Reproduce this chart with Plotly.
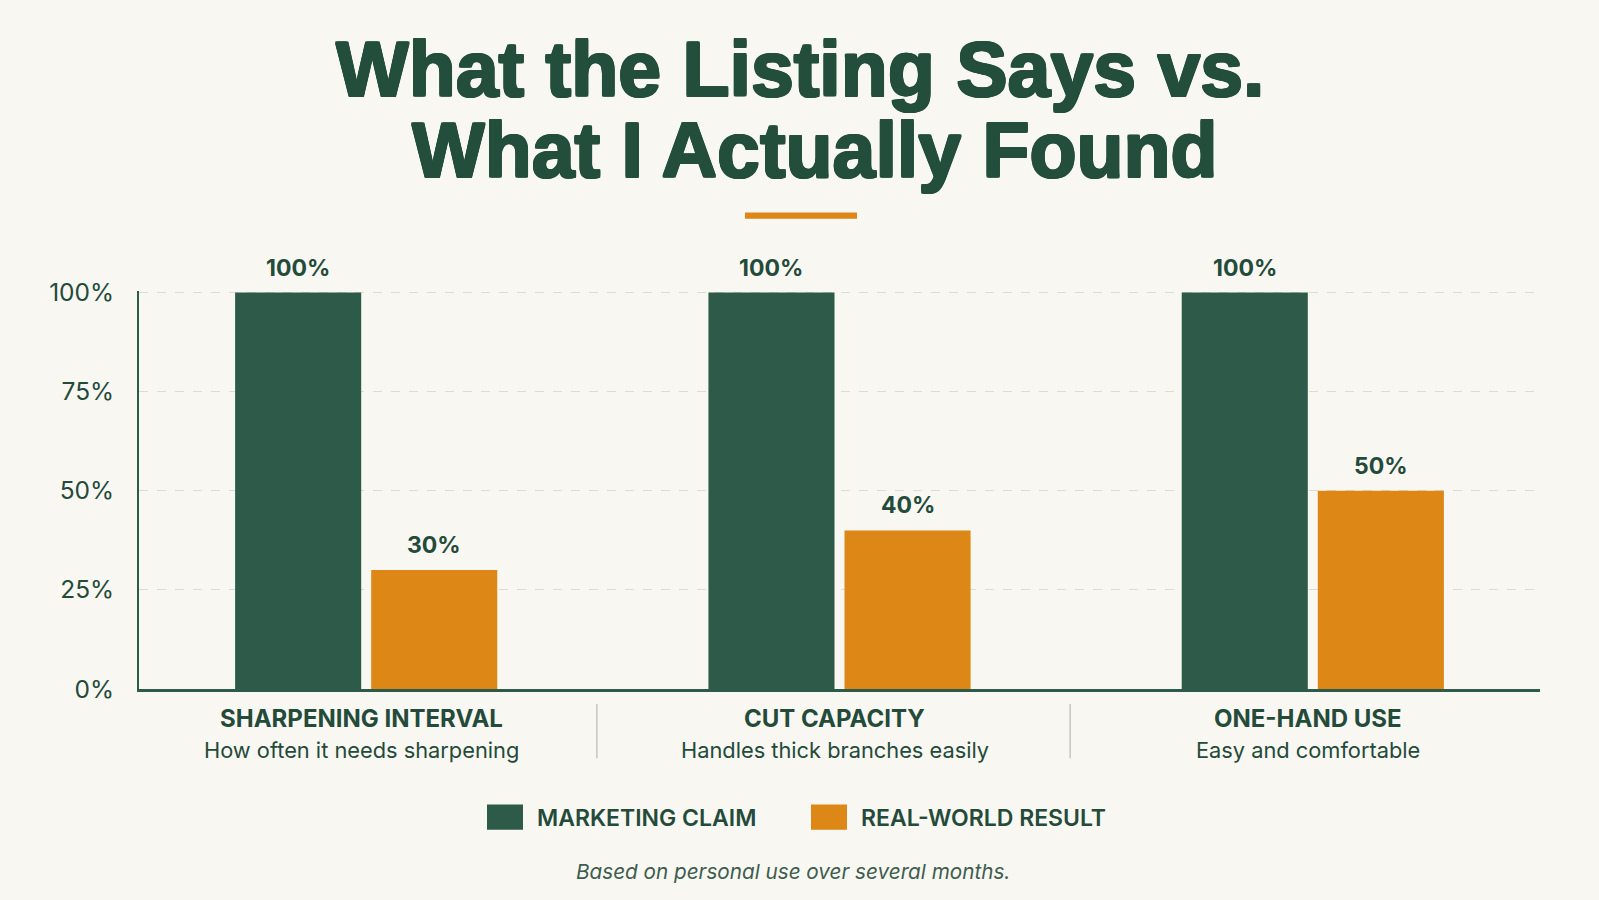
import plotly.graph_objects as go

# ---- data ----
categories = ["SHARPENING INTERVAL", "CUT CAPACITY", "ONE-HAND USE"]
subtitles = ["How often it needs sharpening", "Handles thick branches easily", "Easy and comfortable"]
series_names = ["MARKETING CLAIM", "REAL-WORLD RESULT"]
marketing_claim = [100, 100, 100]
real_world_result = [30, 40, 50]
y_tick_vals = [0, 25, 50, 75, 100]
y_tick_labels = ["0%", "25%", "50%", "75%", "100%"]
title_lines = ["What the Listing Says vs.", "What I Actually Found"]
footnote = "Based on personal use over several months."

# ---- style ----
BG = "#F8F7F2"
GREEN = "#2E5B49"
ORANGE = "#DC8716"
TEXT = "#244A3A"
TITLE = "#234E3C"
GRID = "#DCDCD5"
SEP = "#C6C6C0"
FONT = "Inter"

W, H = 1599, 900
L, R, T, B = 139, 59, 293, 211
PW, PH = W - L - R, H - T - B
XR = [-0.48, 2.48]
YR = [0, 100.4]
BARGAP, GROUPGAP = 0.425, 0.0735


def px(x):
    return (x - L) / PW


def py(y):
    return (H - B - y) / PH


series = [marketing_claim, real_world_result]
colors = [GREEN, ORANGE]

fig = go.Figure()
for name, vals, col in zip(series_names, series, colors):
    fig.add_trace(go.Bar(x=categories, y=vals, name=name, marker_color=col,
                         marker_line_width=0, showlegend=False, hoverinfo="skip"))

unit = PW / (XR[1] - XR[0])
slot = (1 - BARGAP) * unit / len(series)

annotations = []
# value labels
for i, vals in enumerate(series):
    off = (i - (len(series) - 1) / 2) * slot
    for c, v in zip(categories, vals):
        annotations.append(dict(x=c, y=v, xref="x", yref="y", text=f"<b>{v}%</b>",
                                showarrow=False, xanchor="center", yanchor="bottom",
                                xshift=off, yshift=9,
                                font=dict(family=FONT, size=23, color=TEXT)))
# category labels
for c, s in zip(categories, subtitles):
    annotations.append(dict(x=c, y=py(718), xref="x", yref="paper", text=c,
                            showarrow=False, xanchor="center", yanchor="middle", xshift=-5,
                            font=dict(family=FONT, size=24, color=TEXT, weight=700)))
    annotations.append(dict(x=c, y=py(750), xref="x", yref="paper", text=s,
                            showarrow=False, xanchor="center", yanchor="middle", xshift=-5,
                            font=dict(family=FONT, size=21.8, color=TEXT)))
# title
sh = ", ".join(f"{dx}px {dy}px 0 {TITLE}" for dx, dy in
               [(1, 0), (-1, 0), (0, 1), (0, -1), (1, 1), (-1, -1), (1, -1), (-1, 1)])
for line, cx, cy in zip(title_lines, [800, 815], [72.5, 153]):
    annotations.append(dict(x=px(cx), y=py(cy), xref="paper", yref="paper", text=line,
                            showarrow=False, xanchor="center", yanchor="middle",
                            font=dict(family="Liberation Sans", size=77, color=TITLE,
                                      weight=700, shadow=sh)))
# legend (custom)
legend_x = [487, 811]
shapes = []
for name, col, lx in zip(series_names, colors, legend_x):
    shapes.append(dict(type="rect", xref="paper", yref="paper", x0=px(lx), x1=px(lx + 36),
                       y0=py(829), y1=py(804), fillcolor=col, line_width=0, layer="above"))
    annotations.append(dict(x=px(lx + 48), y=py(817), xref="paper", yref="paper", text=name,
                            showarrow=False, xanchor="left", yanchor="middle",
                            font=dict(family=FONT, size=23, color=TEXT, weight=600)))
# footnote
annotations.append(dict(x=px(793), y=py(871), xref="paper", yref="paper", text=footnote,
                        showarrow=False, xanchor="center", yanchor="middle",
                        font=dict(family=FONT, size=20.7, color="#3E5D4F", style="italic")))

# underline accent
shapes.append(dict(type="rect", xref="paper", yref="paper", x0=px(745), x1=px(857),
                   y0=py(221), y1=py(215), fillcolor=ORANGE, line_width=0))
# separators between categories
sep_shift = -6 / unit
for k in range(len(categories) - 1):
    shapes.append(dict(type="line", xref="x", yref="paper",
                       x0=k + 0.5 + sep_shift, x1=k + 0.5 + sep_shift,
                       y0=py(758), y1=py(704), line=dict(color=SEP, width=1.5)))

fig.update_layout(
    width=W, height=H,
    margin=dict(l=L, r=R, t=T - 2, b=B, pad=0),
    paper_bgcolor=BG, plot_bgcolor=BG,
    barmode="group", bargap=BARGAP, bargroupgap=GROUPGAP,
    annotations=annotations, shapes=shapes,
    showlegend=False,
    font=dict(family=FONT, color=TEXT),
)
fig.update_xaxes(range=XR, showticklabels=False, showgrid=False, zeroline=False,
                 showline=True, linecolor=GREEN, linewidth=3, ticks="", fixedrange=True)
fig.update_yaxes(range=YR, tickvals=y_tick_vals, ticktext=y_tick_labels,
                 showgrid=True, gridcolor=GRID, griddash="dash", gridwidth=1,
                 zeroline=False, showline=True, linecolor=GREEN, linewidth=2,
                 ticks="outside", ticklen=18, tickcolor="rgba(0,0,0,0)",
                 tickfont=dict(family=FONT, size=24.5, color=TEXT), fixedrange=True)

fig.write_html("out.html", config={"displayModeBar": False})
